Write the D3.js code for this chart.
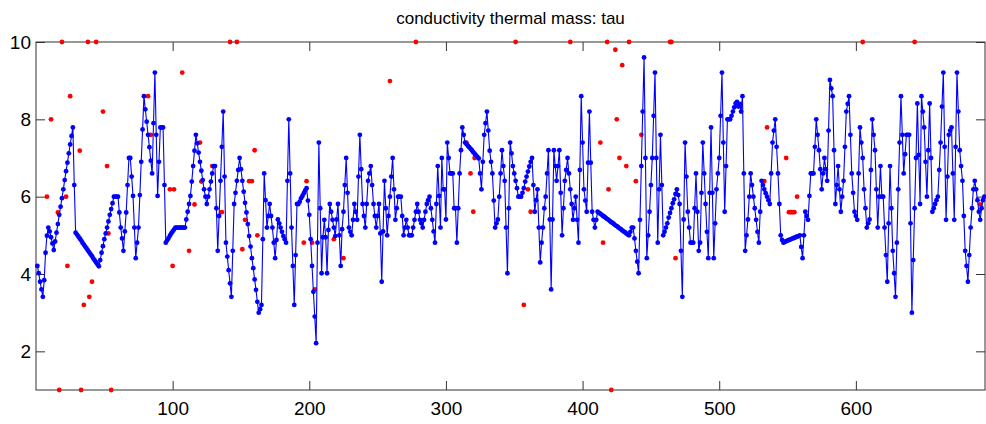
<!DOCTYPE html>
<html>
<head>
<meta charset="utf-8">
<script src="https://cdn.jsdelivr.net/npm/d3@7"></script>
<style>
  body { margin: 0; background: #fff; }
  text { font-family: "Liberation Sans", Arial, Helvetica, sans-serif; }
</style>
</head>
<body>
<div id="chart"></div>
<script>
// tau per sample (index 1..N)
var tau = [
  4.21, 4.02, 3.8, 3.6, 3.41, 3.84, 4.55, 4.99, 5.2, 5.1, 4.95, 4.79, 4.62, 4.84, 5.07, 5.29, 5.53, 5.74, 5.96, 6.19,
  6.43, 6.66, 6.88, 7.12, 7.35, 7.57, 7.79, 6.3,
  5.07, 5.02, 4.97, 4.92, 4.87, 4.81, 4.76, 4.71, 4.66, 4.61, 4.56, 4.51, 4.46, 4.40, 4.35, 4.30, 4.25, 4.20,
  4.36, 4.55, 4.72, 4.9, 5.05, 5.2, 5.36, 5.53, 5.68, 5.83, 6.0, 6.0, 6.0, 6.0,
  5.59, 5.2, 4.92, 4.6, 5.1, 5.59, 6.3, 7.0, 7.0,
  6.52, 6.02, 5.2, 4.41, 4.81, 5.2, 6.04, 6.9, 7.74, 8.6,
  8.26, 7.94, 7.6, 7.28, 6.93, 6.6, 7.9, 9.21, 7.6, 6.02, 6.9, 7.79, 7.79, 7.79, 6.3, 4.81,
  4.87, 4.93, 4.99, 5.05, 5.1, 5.15, 5.2, 5.2, 5.2, 5.2, 5.2, 5.2, 5.2, 5.2,
  5.41, 5.61, 5.81, 6.02, 6.39, 6.79, 7.19, 7.6, 7.38, 7.14, 6.9, 6.67, 6.43, 6.19, 6.0, 5.81, 6.0, 6.19, 6.39, 6.6, 6.79, 6.79,
  5.7, 4.6, 5.5, 6.41, 7.29, 8.2, 6.52, 4.81, 4.45, 4.1, 3.76, 3.41, 4.6, 5.81, 6.1, 6.41, 6.69, 7.0,
  6.71, 6.41, 6.13, 5.84, 5.59, 5.29, 4.98, 4.71, 4.41, 4.15, 3.86, 3.59, 3.28, 3.0, 3.09, 3.2,
  4.9, 6.6, 5.91, 5.2, 5.5, 5.81, 5.5, 5.2, 4.81, 4.41, 4.88, 5.41, 5.31, 5.2, 5.09, 4.98, 4.9, 4.81,
  6.41, 8.0, 6.6, 5.2, 4.21, 3.2, 4.49, 5.81, 5.81, 5.87, 5.96, 6.02, 6.09, 6.16, 6.22,
  5.9, 5.53, 4.9, 4.21, 3.54, 2.9, 2.21, 4.81, 7.4, 5.7, 4.02, 4.95, 5.4, 4.95, 4.02, 5.14,
  5.81, 5.61, 5.4, 5.2, 4.98, 5.41, 5.81, 5.0, 4.21, 5.16, 5.61, 6.3, 7.0, 6.1, 5.2,
  5.09, 5.0, 5.4, 5.81, 5.61, 5.4, 6.52, 7.6, 6.71, 5.81, 5.5, 5.2, 5.81, 6.41, 6.6, 6.79,
  6.3, 5.81, 5.5, 5.2, 5.5, 5.81, 5.05, 3.8, 5.1, 6.41, 5.7, 5.0, 5.5, 6.0, 6.52, 7.0,
  6.19, 5.4, 5.7, 6.0, 6.0, 6.0, 5.5, 5.0, 5.2, 5.4, 5.2,
  5.0, 5.0, 5.0, 5.2, 5.4, 5.61, 5.81, 5.61, 5.4, 5.31, 5.2, 5.4, 5.61, 5.81, 5.91, 6.0, 5.7, 5.4, 5.1, 4.81,
  5.81, 6.79, 6.02, 5.2, 7.0, 6.19, 6.19, 5.41, 7.4, 7.0, 6.6, 6.6, 6.6, 5.7, 5.7, 4.81, 5.7, 6.6, 7.2, 7.79, 7.6,
  7.4, 7.36, 7.32, 7.28, 7.24, 7.2, 7.15, 7.11, 7.07, 7.03, 6.99,
  6.6, 6.19, 6.9, 7.6, 7.9, 8.2, 7.71, 7.19, 6.9, 6.6, 5.9, 5.2, 5.31, 5.41, 6.0, 6.6,
  7.2, 6.79, 6.41, 5.2, 4.02, 5.7, 7.4,
  7.12, 6.79, 6.6, 6.41, 6.22, 6.0, 6.0, 6.0, 6.1, 6.22, 6.39, 6.52, 6.65, 6.78, 6.9, 7.0, 6.3, 5.61, 5.91, 6.19, 5.2,
  4.3, 4.81, 5.2, 5.7, 6.0, 6.6, 7.2, 5.41, 3.6,
  5.41, 7.2, 6.79, 6.41, 6.79, 7.2, 6.1, 5.0, 5.7, 6.41, 6.69, 7.0, 6.6, 6.19, 5.81, 5.4, 5.7, 6.0, 5.4, 4.81,
  6.69, 8.6, 7.4, 6.19, 5.9, 5.61, 6.88, 8.2, 6.88, 5.61, 5.4, 5.2, 5.4,
  5.61, 5.58, 5.56, 5.53, 5.50, 5.48, 5.45, 5.42, 5.40, 5.37, 5.34, 5.32, 5.29, 5.26, 5.24, 5.21, 5.18, 5.16, 5.13, 5.10,
  5.08, 5.05, 5.02, 5.0,
  5.09, 5.2, 5.2, 4.92, 4.6, 4.32, 4.02, 5.4, 6.79, 8.2, 9.6, 7.0, 4.41, 5.0, 5.61, 6.3, 7.0, 8.09, 9.21, 7.0,
  4.81, 6.19, 7.6, 6.3, 5.0,
  5.09, 5.2, 5.31, 5.46, 5.58, 5.7, 5.83, 5.93, 6.07, 6.19,
  6.04, 5.81, 4.6, 3.41, 5.41, 7.4, 6.52, 5.61, 5.2, 4.81, 4.81, 4.81, 5.7, 6.6, 5.61, 4.6,
  4.81, 6.1, 7.4, 6.6, 5.81, 5.09, 4.41, 6.1, 7.79, 6.1, 4.41, 5.31, 6.19, 6.6, 7.0, 8.09, 9.21,
  7.4, 5.61, 6.79, 8.0, 8.0, 8.0, 8.09, 8.2, 8.31, 8.41, 8.45, 8.33, 8.4, 8.2, 8.6, 6.6, 4.6,
  5.0, 5.41, 6.0, 6.6, 6.3, 6.0, 5.7, 5.4, 5.09, 4.81, 5.61, 6.41, 6.3, 6.19, 6.09, 6.0, 5.91, 5.81, 6.6, 7.4,
  7.71, 8.0, 7.29, 6.6, 5.81, 5.0, 4.88, 4.81,
  4.83, 4.85, 4.86, 4.88, 4.89, 4.91, 4.92, 4.94, 4.95, 4.97, 4.98, 5.0,
  4.7, 4.41, 5.0, 5.61, 5.5, 5.4, 6.02, 6.6, 6.6, 6.6, 7.29, 8.0, 7.6, 7.2, 6.71, 6.19, 6.6, 7.0, 6.71, 6.41,
  7.71, 9.02,
  8.8, 8.6, 7.2, 5.81, 6.3, 6.79, 6.19, 5.61, 6.0, 6.41, 7.29, 8.2, 8.4, 8.6, 7.6, 6.6, 6.1, 5.61, 5.5, 5.4,
  6.6, 7.79, 7.4, 7.0,
  6.19, 5.7, 5.2, 5.31, 5.41, 6.69, 8.0, 7.6, 7.2, 6.19, 5.2, 6.0, 6.79, 6.0, 6.0, 5.2, 4.49, 3.8,
  5.31, 6.79, 5.7, 4.6, 4.02, 3.41, 4.81, 6.19, 7.4, 8.6, 7.6, 6.6, 7.1, 7.6, 7.6, 7.6, 5.31, 3.0, 4.36, 5.7,
  7.0, 8.41,
  7.08, 5.81, 8.6, 8.2, 7.79, 6.9, 6.0, 7.2, 8.41, 7.0, 5.61, 5.7, 5.81, 5.91, 6.0, 6.69, 7.4, 8.33, 9.21,
  7.29, 5.4, 6.52, 7.6, 7.71, 7.79, 6.6, 5.4, 7.29, 9.21, 8.2, 7.2, 6.79, 6.41, 5.5, 4.6, 4.21, 3.8, 4.49, 5.2,
  5.7, 6.19, 6.41, 6.19, 5.91, 5.61, 5.4, 5.7, 5.91, 6.0
];

// red points: sample index and value (10 / 1 = clipped at the axes)
var outIdx = [19, 38, 44, 142, 147, 278, 351, 391, 418, 434, 464, 465, 605, 643,
  17, 33, 55, 421,
  25, 11, 32, 49, 52, 8, 22, 16, 53, 23, 41, 39, 35,
  107, 82, 84, 98, 101, 100, 112, 116, 120, 121, 129, 136,
  160, 156, 158, 151, 153, 162, 198, 196, 202, 204, 218, 259, 225,
  318, 320, 321, 315, 357, 360, 362,
  424, 429, 425, 413, 427, 432, 419, 415, 439, 443, 468,
  535, 533, 549, 551, 552, 553, 554, 555, 557, 691];
var outVal = [10, 10, 10, 10, 10, 10, 10, 10, 10, 10, 10, 10, 10, 10,
  1, 1, 1, 1,
  8.6, 8.0, 7.19, 8.2, 6.79, 6.0, 6.0, 5.59, 5.05, 4.21, 3.8, 3.41, 3.2,
  9.21, 8.6, 7.6, 6.19, 6.19, 4.21, 4.6, 5.8, 7.4, 6.39, 6.79, 5.6,
  7.2, 6.4, 6.4, 4.64, 5.4, 5.0, 6.4, 4.81, 4.81, 3.6, 4.9, 8.99, 4.41,
  6.6, 5.61, 7.0, 7.4, 3.2, 6.19, 5.61,
  9.8, 9.4, 8.0, 7.4, 7.0, 6.79, 6.19, 4.81, 6.4, 7.6, 4.41,
  7.79, 6.4, 7.0, 5.6, 5.6, 5.6, 5.6, 5.6, 6.0, 5.8];

var xTicks = [100, 200, 300, 400, 500, 600];
var yTicks = [2, 4, 6, 8, 10];

var margin = {top: 42, right: 1, bottom: 34, left: 36},
    width = 986 - margin.left - margin.right,
    height = 424 - margin.top - margin.bottom;

var svg = d3.select("#chart")
  .append("svg")
    .attr("width", 986)
    .attr("height", 424)
  .append("g")
    .attr("transform", `translate(${margin.left},${margin.top})`);

var x = d3.scaleLinear().domain([0, 694.5]).range([0, width]);
var y = d3.scaleLinear().domain([1, 10]).range([height, 0]);

var axisColor = "#333";
var tickLen = 9;

// box
svg.append("rect")
  .attr("width", width)
  .attr("height", height)
  .attr("fill", "none")
  .attr("stroke", axisColor)
  .attr("stroke-width", 1);

// axes, ticks pointing inward
function styleAxis(g) {
  g.select(".domain").remove();
  g.selectAll(".tick line").attr("stroke", axisColor);
  g.selectAll(".tick text")
    .attr("fill", "#000")
    .style("font-size", "19px");
}

svg.append("g")
  .attr("transform", `translate(0,${height})`)
  .call(d3.axisBottom(x).tickValues(xTicks).tickSizeInner(-tickLen).tickPadding(12))
  .call(styleAxis);

svg.append("g")
  .call(d3.axisTop(x).tickValues(xTicks).tickSizeInner(-tickLen).tickFormat(""))
  .call(styleAxis);

svg.append("g")
  .call(d3.axisLeft(y).tickValues(yTicks).tickSizeInner(-tickLen).tickPadding(5))
  .call(styleAxis);

svg.append("g")
  .attr("transform", `translate(${width},0)`)
  .call(d3.axisRight(y).tickValues(yTicks).tickSizeInner(-tickLen).tickFormat(""))
  .call(styleAxis);

// red outliers
var outliers = outIdx.map((d, i) => ({i: d, v: outVal[i]}));
svg.selectAll("circle.out")
  .data(outliers)
  .enter()
  .append("circle")
    .attr("class", "out")
    .attr("cx", d => x(d.i))
    .attr("cy", d => y(d.v))
    .attr("r", 2.4)
    .attr("fill", "#ff0000");

// blue series
var line = d3.line()
  .x((d, i) => x(i + 1))
  .y(d => y(d));

svg.append("path")
  .datum(tau)
  .attr("fill", "none")
  .attr("stroke", "#0000ff")
  .attr("stroke-width", 1.1)
  .attr("d", line);

svg.selectAll("circle.pt")
  .data(tau)
  .enter()
  .append("circle")
    .attr("class", "pt")
    .attr("cx", (d, i) => x(i + 1))
    .attr("cy", d => y(d))
    .attr("r", 2.4)
    .attr("fill", "#0000ff");

// title
svg.append("text")
  .attr("x", width / 2)
  .attr("y", -18)
  .attr("text-anchor", "middle")
  .style("font-size", "17px")
  .text("conductivity thermal mass: tau");
</script>
</body>
</html>
